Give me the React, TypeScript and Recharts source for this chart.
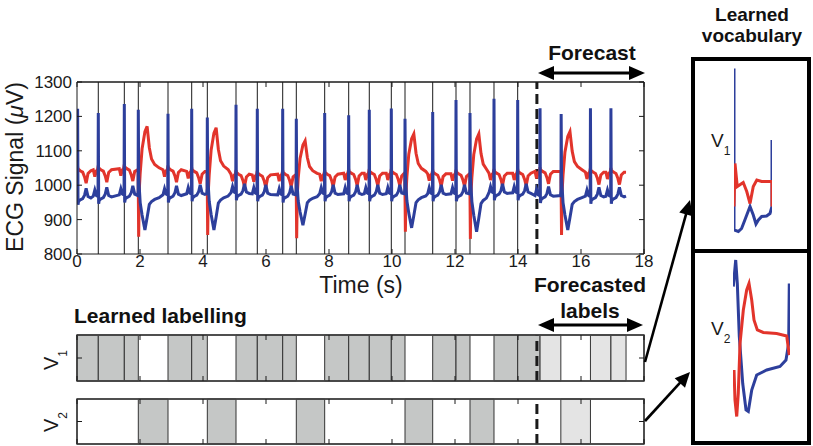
import React from 'react';
import { LineChart, Line, XAxis, YAxis, ReferenceLine, ReferenceArea } from 'recharts';

const FONT = '"Liberation Sans", Arial, Helvetica, sans-serif';
const RED = '#e2342b';
const BLUE = '#2d3f9c';
const INK = '#1a1a1a';
const FRAME = '#444';
const CELL = '#c5c7c6';
const CELL_LIGHT = '#e4e4e4';

// ---------- axis ticks ----------
const xTicks = [0, 2, 4, 6, 8, 10, 12, 14, 16, 18];
const yTicks = [800, 900, 1000, 1100, 1200, 1300];
const forecastStart = 14.6;

// ---------- segmentation (learned + forecasted labelling) ----------
const segEdges = [0, 0.676, 1.502, 1.946, 2.889, 3.641, 4.137, 5.048, 5.724, 6.53, 6.962, 7.863, 8.625, 9.279, 9.978, 10.413, 11.292, 12.032, 12.476, 13.238, 13.99, 14.7, 15.36, 16.3, 16.95, 17.43];
const segWords = [1, 1, 1, 2, 1, 1, 2, 1, 1, 1, 2, 1, 1, 1, 1, 2, 1, 1, 2, 1, 1, 1, 2, 1, 1];
const learnedCount = 21;

// ---------- ECG beats ----------
const signalEnd = 17.43;
const beatTimes = [0.02, 0.676, 1.502, 1.946, 2.889, 3.641, 4.137, 5.048, 5.724, 6.53, 6.962, 7.863, 8.625, 9.279, 9.978, 10.413, 11.292, 12.032, 12.476, 13.238, 13.99, 14.7, 15.37, 16.3, 16.95];
const beatKinds = ['N', 'N', 'N', 'V', 'N', 'N', 'V', 'N', 'N', 'N', 'V', 'N', 'N', 'N', 'N', 'V', 'N', 'N', 'V', 'N', 'N', 'N', 'V', 'N', 'N'];
const bluePeaks = [1222, 1210, 1236, 1219, 1208, 1222, 1197, 1234, 1222, 1222, 1193, 1210, 1203, 1219, 1223, 1193, 1213, 1248, 1210, 1251, 1248, 1224, 1207, 1224, 1224];
const blueBase = [965, 968, 972, 970, 972, 975, 975, 978, 975, 972, 972, 975, 975, 975, 975, 975, 975, 975, 975, 978, 978, 970, 970, 968, 968];
const redBase = [1042, 1045, 1048, 1045, 1045, 1040, 1040, 1032, 1030, 1032, 1030, 1032, 1035, 1035, 1035, 1035, 1033, 1033, 1033, 1035, 1035, 1040, 1040, 1038, 1038];
// ectopic (V) beats, in order
const pvcRedMin = [850, 855, 846, 865, 844, 855];
const pvcRedPeak = [1171, 1167, 1129, 1149, 1149, 1156];
const pvcBlueMin = [870, 870, 884, 876, 865, 870];

// beat shapes (offset from R in s, deviation from baseline in uV)
const nOffsets = [-0.16, -0.11, -0.06, -0.025, -0.008, 0, 0.012, 0.03, 0.08, 0.16, 0.22, 0.27, 0.33, 0.42];
const nBlueDelta = [0, 18, 2, 0, 14, 0, -22, -12, -8, -4, 6, 26, 2, -2];
const nRedDelta = [0, -20, -3, 0, 8, 12, 2, 4, 0, -4, -18, -36, -8, 0];
const N_PEAK = 5;
const vOffsets = [-0.02, -0.006, 0, 0.012, 0.03, 0.06, 0.12, 0.21, 0.28, 0.35, 0.42, 0.52, 0.66, 0.8];
const vBlueDelta = [0, 15, 0, 60, 25, -20, -55, -97, -62, -25, -17, -11, -6, -3];
const vRedDelta = [0, -4, -60, 0, -60, -10, 55, 100, 114, 58, 28, 14, 5, 2];
const V_PEAK_B = 2, V_MIN_B = 7, V_MIN_R = 3, V_PEAK_R = 8;

// ---------- learned vocabulary shapes ----------
const v1Blue = [
  { t: 0, v: 1163 }, { t: 0, v: 840 }, { t: 0.08, v: 837 }, { t: 0.14, v: 843 }, { t: 0.2, v: 860 },
  { t: 0.295, v: 887 }, { t: 0.355, v: 870 }, { t: 0.405, v: 852 }, { t: 0.45, v: 860 }, { t: 0.51, v: 867 },
  { t: 0.6, v: 868 }, { t: 0.663, v: 873 }, { t: 0.7, v: 887 }, { t: 0.7, v: 1020 },
];
const v1Red = [
  { t: 0, v: 887 }, { t: 0.018, v: 973 }, { t: 0.06, v: 927 }, { t: 0.17, v: 935 }, { t: 0.235, v: 917 },
  { t: 0.295, v: 893 }, { t: 0.355, v: 927 }, { t: 0.42, v: 940 }, { t: 0.51, v: 937 }, { t: 0.63, v: 937 },
  { t: 0.7, v: 937 }, { t: 0.7, v: 887 },
];
const v2Blue = [
  { t: 0.005, v: 1127 }, { t: 0.045, v: 1180 }, { t: 0.072, v: 1133 }, { t: 0.105, v: 1027 }, { t: 0.162, v: 933 },
  { t: 0.217, v: 880 }, { t: 0.255, v: 877 }, { t: 0.312, v: 920 }, { t: 0.395, v: 950 }, { t: 0.562, v: 960 },
  { t: 0.783, v: 967 }, { t: 0.883, v: 980 }, { t: 0.928, v: 1013 }, { t: 0.938, v: 1133 },
];
const v2Red = [
  { t: 0.017, v: 960 }, { t: 0.033, v: 900 }, { t: 0.062, v: 867 }, { t: 0.088, v: 913 }, { t: 0.117, v: 1013 },
  { t: 0.172, v: 1080 }, { t: 0.228, v: 1120 }, { t: 0.267, v: 1133 }, { t: 0.312, v: 1100 }, { t: 0.35, v: 1060 },
  { t: 0.405, v: 1040 }, { t: 0.505, v: 1035 }, { t: 0.728, v: 1033 }, { t: 0.895, v: 1028 }, { t: 0.938, v: 990 },
];

type Pt = { t: number; v: number };

function buildSignals() {
  const blue: Pt[] = [{ t: 0, v: 1000 }];
  const red: Pt[] = [{ t: 0, v: 1008 }];
  let pv = 0;
  for (let i = 0; i < beatTimes.length; i++) {
    const t0 = beatTimes[i];
    const prev = i > 0 ? beatTimes[i - 1] : -10;
    const hasNext = i + 1 < beatTimes.length;
    const next = hasNext ? beatTimes[i + 1] : signalEnd + 1;
    const nextIsN = hasNext && beatKinds[i + 1] === 'N';
    const limit = next - (nextIsN ? 0.17 : 0.025);
    const bb = blueBase[i];
    const rb = redBase[i];
    if (beatKinds[i] === 'N') {
      nOffsets.forEach((dt, k) => {
        const t = t0 + dt;
        if (t <= 0.001 || t > signalEnd) return;
        if (dt < 0 && t < prev + 0.45) return;
        if (dt > 0 && t > limit) return;
        blue.push({ t, v: k === N_PEAK ? bluePeaks[i] : bb + nBlueDelta[k] });
        red.push({ t, v: rb + nRedDelta[k] });
      });
    } else {
      const bScale = (bb - pvcBlueMin[pv]) / 97;
      const rScale = (pvcRedPeak[pv] - rb) / 114;
      vOffsets.forEach((dt, k) => {
        const t = t0 + dt;
        if (t > signalEnd) return;
        if (dt > 0 && t > limit) return;
        let b = bb + vBlueDelta[k];
        if (k === V_PEAK_B) b = bluePeaks[i];
        else if (k === V_MIN_B) b = pvcBlueMin[pv];
        else if (vBlueDelta[k] < 0) b = bb + vBlueDelta[k] * bScale;
        let r = rb + vRedDelta[k];
        if (k === V_MIN_R) r = pvcRedMin[pv];
        else if (k === V_PEAK_R) r = pvcRedPeak[pv];
        else if (vRedDelta[k] > 0) r = rb + vRedDelta[k] * rScale;
        blue.push({ t, v: b });
        red.push({ t, v: r });
      });
      pv++;
    }
  }
  const last = beatTimes.length - 1;
  blue.push({ t: signalEnd, v: blueBase[last] });
  red.push({ t: signalEnd, v: redBase[last] });
  blue.sort((a, b) => a.t - b.t);
  red.sort((a, b) => a.t - b.t);
  return { blue, red };
}

const { blue: blueData, red: redData } = buildSignals();
const stripData = segEdges.map((t) => ({ t }));

// ---------- inward (MATLAB-style) tick ----------
function InTick(props: any) {
  const { x, y, payload, side, tm = 0, label = false, fontSize = 17 } = props;
  const L = 5;
  if (side === 'bottom') {
    const ay = y - tm;
    return (
      <g>
        <line x1={x} x2={x} y1={ay} y2={ay - L} stroke={INK} strokeWidth={1} />
        {label && (
          <text x={x} y={y} dy={10} textAnchor="middle" fontSize={fontSize} fontFamily={FONT} fill={INK}>
            {payload.value}
          </text>
        )}
      </g>
    );
  }
  if (side === 'top') {
    const ay = y + tm;
    return <line x1={x} x2={x} y1={ay} y2={ay + L} stroke={INK} strokeWidth={1} />;
  }
  if (side === 'left') {
    const ax = x + tm;
    return (
      <g>
        <line x1={ax} x2={ax + L} y1={y} y2={y} stroke={INK} strokeWidth={1} />
        {label && (
          <text x={x} y={y} dy={6} textAnchor="end" fontSize={fontSize} fontFamily={FONT} fill={INK}>
            {payload.value}
          </text>
        )}
      </g>
    );
  }
  const ax = x - tm;
  return <line x1={ax} x2={ax - L} y1={y} y2={y} stroke={INK} strokeWidth={1} />;
}

function EcgChart() {
  return (
    <div style={{ position: 'absolute', left: 0, top: 0 }}>
      <LineChart width={660} height={300} margin={{ top: 81, right: 15, bottom: 16, left: 0 }}>
        <XAxis xAxisId={0} type="number" dataKey="t" domain={[0, 18]} allowDataOverflow ticks={xTicks} interval={0}
          height={30} tickSize={0} tickLine={false} tickMargin={3} axisLine={{ stroke: INK }}
          tick={<InTick side="bottom" tm={3} label />} />
        <XAxis xAxisId="top" orientation="top" type="number" dataKey="t" domain={[0, 18]} allowDataOverflow ticks={xTicks} interval={0}
          height={1} tickSize={0} tickLine={false} tickMargin={0} axisLine={{ stroke: INK }}
          tick={<InTick side="top" tm={0} />} />
        <YAxis yAxisId={0} type="number" domain={[800, 1300]} allowDataOverflow ticks={yTicks} interval={0}
          width={77} tickSize={0} tickLine={false} tickMargin={5} axisLine={{ stroke: INK }}
          tick={<InTick side="left" tm={5} label />} />
        <YAxis yAxisId="right" orientation="right" type="number" domain={[800, 1300]} allowDataOverflow ticks={yTicks} interval={0}
          width={1} tickSize={0} tickLine={false} tickMargin={0} axisLine={{ stroke: INK }}
          tick={<InTick side="right" tm={0} />} />
        {segEdges.slice(1, learnedCount).map((t) => (
          <ReferenceLine key={t} x={t} stroke={INK} strokeWidth={1} zIndex={-50} />
        ))}
        <ReferenceLine x={forecastStart} stroke={INK} strokeWidth={3} strokeDasharray="10 5" zIndex={-40} />
        <ReferenceLine y={1300} yAxisId={0} stroke={INK} strokeWidth={1} />
        <ReferenceLine x={18} stroke={INK} strokeWidth={1} />
        <Line data={redData} dataKey="v" type="linear" stroke={RED} strokeWidth={3} dot={false} isAnimationActive={false} />
        <Line data={blueData} dataKey="v" type="linear" stroke={BLUE} strokeWidth={3} dot={false} isAnimationActive={false} />
      </LineChart>
    </div>
  );
}

function LabelStrip({ word, top, height }: { word: number; top: number; height: number }) {
  return (
    <div style={{ position: 'absolute', left: 0, top }}>
      <LineChart width={660} height={height} data={stripData} margin={{ top: 4, right: 15, bottom: 4, left: 0 }}>
        <XAxis xAxisId={0} type="number" dataKey="t" domain={[0, 18]} allowDataOverflow ticks={xTicks} interval={0}
          height={1} tickSize={0} tickLine={false} tickMargin={0} axisLine={{ stroke: FRAME, strokeWidth: 1.5 }}
          tick={<InTick side="bottom" tm={0} />} />
        <XAxis xAxisId="top" orientation="top" type="number" dataKey="t" domain={[0, 18]} allowDataOverflow ticks={xTicks} interval={0}
          height={1} tickSize={0} tickLine={false} tickMargin={0} axisLine={{ stroke: FRAME, strokeWidth: 1.5 }}
          tick={<InTick side="top" tm={0} />} />
        <YAxis yAxisId={0} type="number" domain={[0, 1]} allowDataOverflow ticks={[0.5]} interval={0}
          width={77} tickSize={0} tickLine={false} tickMargin={5} axisLine={{ stroke: FRAME, strokeWidth: 1.5 }}
          tick={<InTick side="left" tm={5} />} />
        <YAxis yAxisId="right" orientation="right" type="number" domain={[0, 1]} allowDataOverflow ticks={[0.5]} interval={0}
          width={1} tickSize={0} tickLine={false} tickMargin={0} axisLine={{ stroke: FRAME, strokeWidth: 1.5 }}
          tick={<InTick side="right" tm={0} />} />
        {segWords.map((w, i) =>
          w === word ? (
            <ReferenceArea key={i} x1={segEdges[i]} x2={segEdges[i + 1]} y1={0} y2={1}
              fill={i < learnedCount ? CELL : CELL_LIGHT} fillOpacity={1} stroke="#333" strokeWidth={1} />
          ) : null
        )}
        <ReferenceArea x1={0} x2={18} y1={0} y2={1} fill="none" fillOpacity={0} stroke={FRAME} strokeWidth={1.5} />
        <ReferenceLine x={forecastStart} stroke={INK} strokeWidth={3} strokeDasharray="10 5" />
      </LineChart>
    </div>
  );
}

function VocabBox({ top, left, blue, red, xDomain, yDomain, mLeft, mRight }: any) {
  return (
    <>
      <div style={{ position: 'absolute', left, top }}>
        <LineChart width={120} height={196} margin={{ top: 0, right: mRight, bottom: 0, left: mLeft }}>
          <XAxis type="number" dataKey="t" domain={xDomain} allowDataOverflow hide />
          <YAxis type="number" domain={yDomain} allowDataOverflow hide />
          <Line data={blue} dataKey="v" type="linear" stroke={BLUE} strokeWidth={3} dot={false} isAnimationActive={false} />
          <Line data={red} dataKey="v" type="linear" stroke={RED} strokeWidth={3} dot={false} isAnimationActive={false} />
        </LineChart>
      </div>
      <div style={{ position: 'absolute', left, top, width: 120, height: 196, border: '4px solid #000', boxSizing: 'border-box' }} />
    </>
  );
}

function Arrow({ x1, y1, x2, y2, both = false, head = 16, half = 7, w = 3 }: any) {
  const dx = x2 - x1, dy = y2 - y1;
  const len = Math.hypot(dx, dy);
  const ux = dx / len, uy = dy / len, px = -uy, py = ux;
  const tri = (tx: number, ty: number, dir: number) => {
    const bx = tx - dir * ux * head, by = ty - dir * uy * head;
    return `${tx},${ty} ${bx + px * half},${by + py * half} ${bx - px * half},${by - py * half}`;
  };
  const sx = both ? x1 + ux * head * 0.7 : x1;
  const sy = both ? y1 + uy * head * 0.7 : y1;
  return (
    <g>
      <line x1={sx} y1={sy} x2={x2 - ux * head * 0.7} y2={y2 - uy * head * 0.7} stroke="#000" strokeWidth={w} />
      <polygon points={tri(x2, y2, 1)} fill="#000" />
      {both && <polygon points={tri(x1, y1, -1)} fill="#000" />}
    </g>
  );
}

function Overlay() {
  const bold = { fontFamily: FONT, fontWeight: 700, fontSize: 21, fill: '#111' } as const;
  return (
    <svg width={813} height={446} style={{ position: 'absolute', left: 0, top: 0, pointerEvents: 'none' }}>
      <text transform="translate(23,167) rotate(-90)" textAnchor="middle" fontFamily={FONT} fontSize={23} fill={INK}>
        ECG Signal (<tspan fontStyle="italic">μ</tspan>V)
      </text>
      <text x={361} y={293} textAnchor="middle" fontFamily={FONT} fontSize={23} fill={INK}>Time (s)</text>

      <text x={592} y={60} textAnchor="middle" {...bold}>Forecast</text>
      <Arrow x1={538} y1={73} x2={645} y2={73} both />

      <text x={74} y={323} {...bold}>Learned labelling</text>
      <text x={590} y={292} textAnchor="middle" {...bold}>Forecasted</text>
      <text x={590} y={318} textAnchor="middle" {...bold}>labels</text>
      <Arrow x1={538} y1={325} x2={643} y2={325} both />

      <text transform="translate(58,370) rotate(-90)" fontFamily={FONT} fontSize={20} fill={INK}>
        V<tspan fontSize={12} dy={9}>1</tspan>
      </text>
      <text transform="translate(58,432) rotate(-90)" fontFamily={FONT} fontSize={20} fill={INK}>
        V<tspan fontSize={12} dy={9}>2</tspan>
      </text>

      <text x={752} y={21} textAnchor="middle" {...bold} fontSize={19}>Learned</text>
      <text x={752} y={42} textAnchor="middle" {...bold} fontSize={19}>vocabulary</text>

      <text x={711} y={147} fontFamily={FONT} fontSize={19} fill={INK}>
        V<tspan fontSize={12} dy={8}>1</tspan>
      </text>
      <text x={711} y={335} fontFamily={FONT} fontSize={19} fill={INK}>
        V<tspan fontSize={12} dy={8}>2</tspan>
      </text>

      <Arrow x1={645} y1={362} x2={690} y2={200} head={15} half={7} w={2.6} />
      <Arrow x1={645} y1={421} x2={690} y2={372} head={15} half={7} w={2.6} />
    </svg>
  );
}

export default function App() {
  return (
    <div style={{ position: 'absolute', left: 0, top: 0, width: 813, height: 446, background: '#fff', overflow: 'hidden' }}>
      <EcgChart />
      <LabelStrip word={1} top={330} height={56} />
      <LabelStrip word={2} top={394} height={55} />
      <VocabBox left={691} top={57} blue={v1Blue} red={v1Red} xDomain={[0, 0.7]} yDomain={[794, 1186]} mLeft={43} mRight={39} />
      <VocabBox left={691} top={249} blue={v2Blue} red={v2Red} xDomain={[0, 0.95]} yDomain={[810, 1202]} mLeft={42} mRight={21} />
      <Overlay />
    </div>
  );
}
